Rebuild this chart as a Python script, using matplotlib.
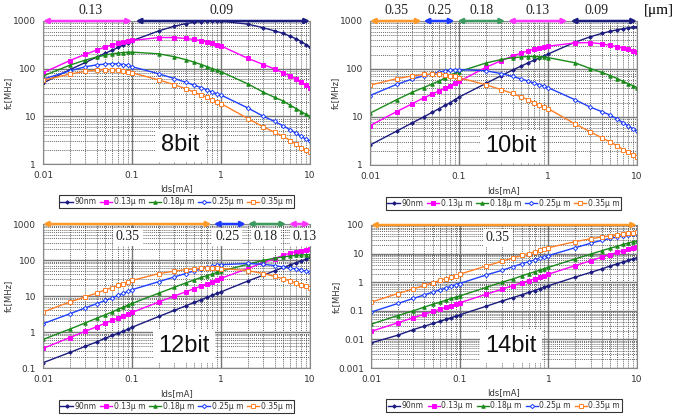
import matplotlib
matplotlib.use("Agg")
import matplotlib.pyplot as plt
from matplotlib.ticker import LogLocator, FixedLocator, FixedFormatter, NullFormatter
import matplotlib.transforms as mtransforms

# Ids [mA] sample points
ids = [0.01, 0.02, 0.03, 0.04, 0.05, 0.06, 0.07, 0.08, 0.09,
       0.1, 0.2, 0.3, 0.4, 0.5, 0.6, 0.7, 0.8, 0.9,
       1, 2, 3, 4, 5, 6, 7, 8, 9, 10]

series_names = ["90nm", "0.13μ m", "0.18μ m", "0.25μ m", "0.35μ m"]

# fc [MHz] for 8bit
fc8_90 = [50, 95, 135, 175, 210, 245, 280, 315, 350, 385, 620, 780, 880, 940, 975, 995, 1000, 1000,
          990, 860, 720, 620, 550, 480, 420, 370, 320, 285]
fc8_13 = [82, 148, 200, 245, 285, 315, 340, 360, 375, 390, 450, 450, 430, 410, 385, 360, 340, 320,
          300, 165, 122, 98, 82, 70, 60, 52, 45, 39]
fc8_18 = [70, 118, 152, 175, 192, 205, 213, 218, 221, 222, 205, 178, 155, 137, 122, 110, 100, 93,
          86, 48, 32, 25, 21, 17, 14.5, 12.5, 11, 10]
fc8_25 = [60, 90, 110, 120, 125, 127, 126, 122, 117, 110, 78, 62, 52, 45, 40, 36, 32, 30,
          28, 15, 10, 7.8, 6.3, 5.2, 4.4, 3.8, 3.3, 3.0]
fc8_35 = [57, 77, 88, 93, 95, 95, 93, 90, 86, 82, 58, 46, 38, 32, 28, 25, 22, 20,
          18.5, 9, 6, 4.6, 3.8, 3.1, 2.6, 2.2, 2.0, 1.8]

# fc [MHz] for 10bit
fc10_90 = [2.6, 5.1, 7.6, 10, 12.5, 15, 17.5, 20, 23, 26, 50, 73, 95, 115, 135, 153, 170, 187,
           205, 360, 470, 550, 610, 655, 690, 720, 740, 760]
fc10_13 = [6.6, 13, 19, 25, 30, 35, 40, 45, 50, 55, 108, 150, 185, 215, 240, 260, 275, 288,
           298, 350, 355, 335, 310, 290, 270, 255, 238, 225]
fc10_18 = [12, 23, 33, 41, 49, 56, 66, 75, 82, 88, 133, 158, 172, 178, 182, 183, 181, 178,
           173, 135, 102, 85, 73, 63, 55, 49, 45, 41]
fc10_25 = [28, 48, 62, 72, 80, 86, 91, 94, 96, 97, 92, 80, 70, 62, 56, 51, 47, 44,
           41, 23, 16, 13, 11, 9, 7.6, 6.5, 5.7, 5.1]
fc10_35 = [46, 63, 72, 77, 78, 78, 76, 73, 70, 66, 47, 37, 31, 26, 23, 20, 18, 16.5,
           15, 7.2, 4.9, 3.7, 3.0, 2.5, 2.1, 1.85, 1.65, 1.5]

# fc [MHz] for 12bit
fc12_90 = [0.14, 0.27, 0.4, 0.53, 0.67, 0.8, 0.93, 1.06, 1.2, 1.35, 2.7, 4.0, 5.3, 6.6, 7.9, 9.2, 10.5, 11.8,
           13, 26, 38, 50, 62, 73, 84, 95, 106, 118]
fc12_13 = [0.35, 0.7, 1.05, 1.4, 1.75, 2.1, 2.45, 2.8, 3.2, 3.5, 6.8, 10, 13, 16, 19, 22, 25, 28,
           31, 58, 85, 110, 135, 155, 170, 182, 192, 200]
fc12_18 = [0.62, 1.2, 1.8, 2.4, 3.0, 3.6, 4.3, 4.9, 5.6, 6.2, 12, 17.5, 23, 28, 33, 37, 41, 45,
           49, 76, 98, 112, 122, 129, 134, 138, 140, 142]
fc12_25 = [1.7, 3.2, 4.7, 6.1, 7.5, 8.8, 10.5, 12, 13.5, 15, 25, 34, 42, 50, 56, 62, 67, 71,
           74, 80, 76, 70, 64, 60, 56, 52, 49, 46]
fc12_35 = [3.6, 6.8, 9.5, 12, 15, 17, 20, 22, 25, 27, 42, 49, 54, 57, 59, 60, 60, 59,
           58, 51, 42, 35, 30, 26, 23, 20, 18.5, 17]

# fc [MHz] for 14bit
fc14_90 = [0.0075, 0.014, 0.022, 0.029, 0.036, 0.043, 0.05, 0.057, 0.065, 0.072, 0.145, 0.22, 0.29, 0.36,
           0.44, 0.51, 0.59, 0.67, 0.75, 1.5, 2.2, 2.9, 3.7, 4.4, 5.1, 5.8, 6.5, 7.2]
fc14_13 = [0.019, 0.038, 0.057, 0.076, 0.095, 0.113, 0.132, 0.15, 0.17, 0.19, 0.38, 0.57, 0.76, 0.95,
           1.13, 1.32, 1.5, 1.7, 1.9, 3.8, 5.6, 7.5, 9.3, 11, 12.8, 14.5, 16, 17.5]
fc14_18 = [0.034, 0.068, 0.1, 0.135, 0.17, 0.2, 0.235, 0.27, 0.3, 0.33, 0.66, 1.0, 1.3, 1.65,
           2.0, 2.3, 2.65, 3.0, 3.3, 6.5, 9.6, 12.6, 15.5, 18, 21, 23.5, 26, 28]
fc14_25 = [0.09, 0.18, 0.27, 0.36, 0.45, 0.54, 0.63, 0.72, 0.81, 0.9, 1.8, 2.6, 3.5, 4.4,
           5.2, 6.0, 6.9, 7.7, 8.5, 16, 23, 29, 34, 38, 42, 45, 47, 49]
fc14_35 = [0.2, 0.4, 0.58, 0.77, 0.96, 1.15, 1.33, 1.5, 1.7, 1.9, 3.7, 5.4, 7.0, 8.6,
           10, 11.5, 13, 14.5, 16, 26, 33, 38, 42, 45, 48, 51, 53, 55]

# process-range arrows on top of each panel: (start, end, label)
ranges8 = [(0.01, 0.1, "0.13"), (0.11, 10, "0.09")]
ranges10 = [(0.01, 0.038, "0.35"), (0.04, 0.089, "0.25"), (0.096, 0.33, "0.18"),
            (0.355, 1.65, "0.13"), (1.8, 10, "0.09")]
ranges12 = [(0.01, 0.78, "0.35"), (0.83, 1.9, "0.25"), (2.0, 5.4, "0.18"), (5.8, 10, "0.13")]
ranges14 = [(0.01, 10, "0.35")]

label_x8 = [0.034, 1.02]
label_x10 = [0.0198, 0.0607, 0.178, 0.76, 3.5]
label_x12 = [0.09, 1.17, 3.2, 8.8]
label_x14 = [0.27]

range_colors = {"0.09": "#1c1c80", "0.13": "#ff33ff", "0.18": "#3c9a5f",
                "0.25": "#1f3bff", "0.35": "#ff9a2a"}

colors = ["#1c1c80", "#ff00ff", "#1a8a1a", "#2040ff", "#ff7f27"]
markers = ["D", "s", "^", "D", "s"]
msizes = [1.8, 2.3, 2.5, 2.2, 2.2]
faces = ["#1c1c80", "#ff00ff", "#1a8a1a", "white", "white"]

plt.rcParams['font.family'] = ['DejaVu Sans']

fig = plt.figure(figsize=(6.78, 4.16), dpi=100)

panels = [
    dict(pos=[43, 21, 267, 143], data=[fc8_90, fc8_13, fc8_18, fc8_25, fc8_35], ylim=(1, 1000),
         title="8bit", tpos=(0.513, 0.13), ranges=ranges8, lx=label_x8, ly=1.075, lbox=False),
    dict(pos=[370, 21, 267, 144], data=[fc10_90, fc10_13, fc10_18, fc10_25, fc10_35], ylim=(1, 1000),
         title="10bit", tpos=(0.528, 0.13), ranges=ranges10, lx=label_x10, ly=1.075, lbox=False),
    dict(pos=[43, 224, 267, 144], data=[fc12_90, fc12_13, fc12_18, fc12_25, fc12_35], ylim=(0.1, 1000),
         title="12bit", tpos=(0.528, 0.153), ranges=ranges12, lx=label_x12, ly=0.91, lbox=True),
    dict(pos=[371, 225, 266, 143], data=[fc14_90, fc14_13, fc14_18, fc14_25, fc14_35], ylim=(0.001, 100),
         title="14bit", tpos=(0.526, 0.153), ranges=ranges14, lx=label_x14, ly=0.91, lbox=True),
]

W, H = 678, 416
for p in panels:
    l, t, w, h = p["pos"]
    ax = fig.add_axes([l / W, (H - t - h) / H, w / W, h / H])
    ax.set_xscale("log")
    ax.set_yscale("log")
    ax.set_xlim(0.01, 10)
    ax.set_ylim(*p["ylim"])

    # grid
    ax.xaxis.set_minor_locator(LogLocator(base=10, subs=range(2, 10), numticks=20))
    ax.yaxis.set_minor_locator(LogLocator(base=10, subs=range(2, 10), numticks=20))
    ax.xaxis.set_minor_formatter(NullFormatter())
    ax.yaxis.set_minor_formatter(NullFormatter())
    ax.grid(which="major", color="#777777", lw=1.0, ls="-")
    ax.grid(which="minor", color="#333333", lw=0.5, ls=(0, (1.5, 1.5)))
    ax.set_axisbelow(True)

    xt = [0.01, 0.1, 1, 10]
    ax.xaxis.set_major_locator(FixedLocator(xt))
    ax.xaxis.set_major_formatter(FixedFormatter(["0.01", "0.1", "1", "10"]))
    lo, hi = p["ylim"]
    yt = []
    v = lo
    while v <= hi * 1.001:
        yt.append(v)
        v *= 10
    ylab = [("%g" % y) for y in yt]
    ax.yaxis.set_major_locator(FixedLocator(yt))
    ax.yaxis.set_major_formatter(FixedFormatter(ylab))
    ax.tick_params(which="both", length=0, labelsize=6.5, pad=5, colors="#333333")
    for s in ax.spines.values():
        s.set_color("#888888")
        s.set_linewidth(0.8)

    for d, name, c, m, ms, fcol in zip(p["data"], series_names, colors, markers, msizes, faces):
        ax.plot(ids, d, color=c, lw=1.0, marker=m, ms=ms, mfc=fcol, mec=c, mew=0.7, label=name)

    ax.text(0.5, -0.175, "Ids[mA]", transform=ax.transAxes, ha="center", va="center",
            fontsize=6, color="#333333")
    ax.text(-0.13, 0.5, "fc[MHz]", transform=ax.transAxes, ha="center", va="center",
            rotation=90, fontsize=6, color="#333333")

    ax.text(p["tpos"][0], p["tpos"][1], p["title"], transform=ax.transAxes, ha="center",
            va="center", fontsize=17, color="#111111", family="Liberation Sans",
            bbox=dict(facecolor="white", edgecolor="none", pad=4))

    # range arrows
    trans = mtransforms.blended_transform_factory(ax.transData, ax.transAxes)
    for (x0, x1, lab), lx in zip(p["ranges"], p["lx"]):
        rc = range_colors[lab]
        ax.annotate("", xy=(x1, 1.0), xytext=(x0, 1.0), xycoords=trans, textcoords=trans,
                    arrowprops=dict(arrowstyle="<|-|>", color=rc, lw=1.8,
                                    mutation_scale=7, shrinkA=0, shrinkB=0),
                    annotation_clip=False, zorder=10)
        kw = dict(facecolor="white", edgecolor="none", pad=2) if p["lbox"] else None
        ax.text(lx, p["ly"], lab, transform=trans, ha="center", va="center",
                fontsize=10, family="Liberation Serif", color="#222222", bbox=kw,
                clip_on=False, zorder=11)

    leg = ax.legend(loc="center", bbox_to_anchor=(0.5, -0.265), ncol=5, fontsize=5.5,
                    frameon=True, fancybox=False, edgecolor="black", handlelength=1.6,
                    handletextpad=0.2, columnspacing=0.5, borderpad=0.25, borderaxespad=0)
    leg.get_frame().set_linewidth(0.8)
    for txt in leg.get_texts():
        txt.set_color("#333333")

    if p["title"] == "10bit":
        ax.text(17.8, 1.075, "[μm]", transform=trans, ha="center", va="center",
                fontsize=11, family="Liberation Serif", clip_on=False)

fig.savefig("out.png", dpi=100)
